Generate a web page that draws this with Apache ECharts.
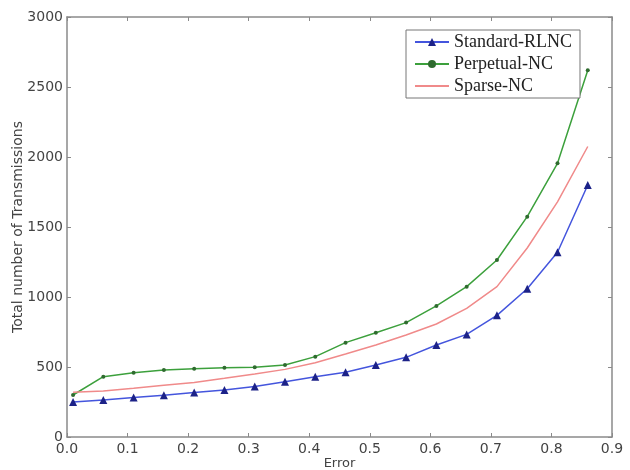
<!DOCTYPE html>
<html>
<head>
    <meta charset="utf-8">
    <title>Transmissions vs Error</title>
    <script src="https://cdn.jsdelivr.net/npm/echarts@6/dist/echarts.min.js"></script>
    <style type="text/css">
        html, body { margin: 0; padding: 0; background: #fff; }
        #main { width: 630px; height: 470px; }
    </style>
</head>
<body>
<div id="main"></div>
<script type="text/javascript">
    // error rates on the x axis
    var errors = [0.01, 0.06, 0.11, 0.16, 0.21, 0.26, 0.31, 0.36, 0.41, 0.46, 0.51, 0.56, 0.61, 0.66, 0.71, 0.76, 0.81, 0.86];
    var standardRLNC = [250, 264, 283, 298, 317, 336, 360, 395, 430, 462, 514, 569, 657, 733, 869, 1059, 1320, 1800];
    var perpetualNC = [300, 431, 459, 479, 488, 495, 498, 514, 574, 674, 745, 817, 936, 1074, 1264, 1574, 1955, 2620];
    var sparseNC = [320, 329, 348, 369, 390, 419, 450, 483, 531, 593, 657, 729, 807, 919, 1074, 1350, 1680, 2075];

    function pairs(ys) {
        return errors.map(function (x, i) { return [x, ys[i]]; });
    }

    var frame = '#8a8a8a';
    var tickFont = {color: '#444', fontSize: 14, fontFamily: 'DejaVu Sans'};
    var frameLine = {show: true, onZero: false, lineStyle: {color: frame, width: 1.5}};
    var frameTick = {show: true, inside: true, length: 4, lineStyle: {color: frame}};

    var chart = echarts.init(document.getElementById('main'));
    chart.setOption({
        animation: false,
        grid: {left: 67, right: 18, top: 17, bottom: 33, containLabel: false, outerBoundsMode: 'none'},
        legend: {
            orient: 'vertical',
            left: 406,
            top: 30,
            width: 176,
            padding: [3, 8, 3, 8],
            itemGap: 4,
            itemWidth: 34,
            itemHeight: 10,
            backgroundColor: '#fff',
            borderColor: '#777',
            borderWidth: 1,
            textStyle: {fontFamily: 'Liberation Serif', fontSize: 18, color: '#222'},
            data: ['Standard-RLNC', 'Perpetual-NC', {name: 'Sparse-NC', itemStyle: {opacity: 0}}]
        },
        xAxis: [{
            type: 'value',
            min: 0, max: 0.9, interval: 0.1,
            name: 'Error',
            nameLocation: 'middle',
            nameGap: 20,
            nameMoveOverlap: false,
            nameTextStyle: {fontSize: 13, color: '#444', fontFamily: 'DejaVu Sans', verticalAlign: 'top'},
            axisLine: frameLine,
            axisTick: frameTick,
            axisLabel: Object.assign({margin: 5, formatter: function (v) { return v.toFixed(1); }}, tickFont),
            splitLine: {show: false}
        }, {
            type: 'value', position: 'top',
            min: 0, max: 0.9, interval: 0.1,
            axisLine: frameLine,
            axisTick: frameTick,
            axisLabel: {show: false},
            splitLine: {show: false}
        }],
        yAxis: [{
            type: 'value',
            min: 0, max: 3000, interval: 500,
            name: 'Total number of Transmissions',
            nameLocation: 'middle',
            nameGap: 42,
            nameMoveOverlap: false,
            nameTextStyle: {fontSize: 14, color: '#444', fontFamily: 'DejaVu Sans'},
            axisLine: frameLine,
            axisTick: frameTick,
            axisLabel: Object.assign({margin: 4, formatter: function (v) { return String(v); }}, tickFont),
            splitLine: {show: false}
        }, {
            type: 'value', position: 'right',
            min: 0, max: 3000, interval: 500,
            axisLine: frameLine,
            axisTick: frameTick,
            axisLabel: {show: false},
            splitLine: {show: false}
        }],
        series: [{
            name: 'Standard-RLNC',
            type: 'line',
            data: pairs(standardRLNC),
            symbol: 'triangle',
            symbolSize: 8,
            itemStyle: {color: '#1c2288'},
            lineStyle: {color: '#4455dd', width: 1.5},
            z: 3
        }, {
            name: 'Perpetual-NC',
            type: 'line',
            data: pairs(perpetualNC),
            symbol: 'circle',
            symbolSize: 4,
            itemStyle: {color: '#2f6b2f'},
            lineStyle: {color: '#3ca03c', width: 1.5},
            z: 2
        }, {
            name: 'Sparse-NC',
            type: 'line',
            data: pairs(sparseNC),
            showSymbol: false,
            itemStyle: {color: '#f08a8a'},
            lineStyle: {color: '#f08a8a', width: 1.5},
            z: 2
        }]
    });
</script>
</body>
</html>
